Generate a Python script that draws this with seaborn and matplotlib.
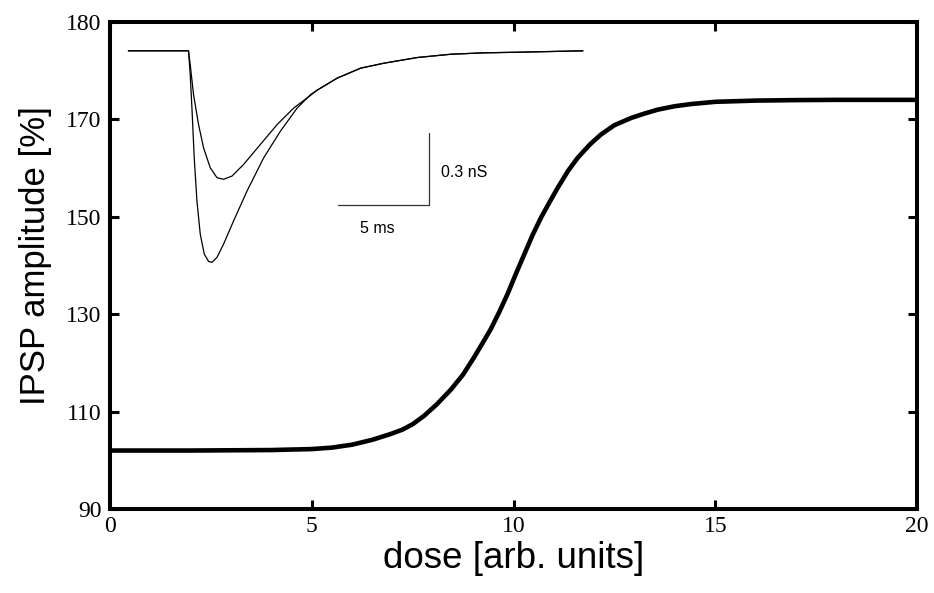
import matplotlib
matplotlib.use("Agg")
import matplotlib.pyplot as plt
import seaborn as sns
import pandas as pd

#######################
#
# DATA
#
#######################
# dose-response curve
dose = [0, 2, 4, 5, 5.5, 6, 6.5, 6.957, 7.25, 7.5, 7.78, 8.1, 8.447, 8.75, 9.027,
        9.25, 9.441, 9.65, 9.855, 10.06, 10.27, 10.47, 10.68, 10.9, 11.10, 11.35,
        11.59, 11.9, 12.17, 12.5, 12.92, 13.25, 13.58, 14.0, 14.41, 15, 16, 17, 18, 20]
ipsp = [102.0, 102.0, 102.1, 102.3, 102.6, 103.2, 104.2, 105.4, 106.3, 107.4,
        109.1, 111.5, 114.5, 117.6, 121.2, 124.3, 127.0, 130.5, 134.2, 138.3,
        142.35, 146.2, 149.8, 153.1, 156.0, 159.4, 162.1, 164.9, 166.9, 168.8,
        170.3, 171.2, 172.0, 172.7, 173.15, 173.6, 173.85, 173.95, 174.0, 174.0]

# inset conductance traces, drawn in the main axes units
deep_x = [0.455, 1.945, 1.988, 2.030, 2.087, 2.154, 2.236, 2.335, 2.442, 2.527,
          2.651, 2.815, 3.063, 3.396, 3.809, 4.224, 4.639, 4.969, 5.135, 5.632,
          6.211, 6.79, 7.62, 8.45, 9.27, 10.10, 10.93, 11.72]
deep_y = [184.07, 184.07, 179.16, 172.33, 162.11, 153.25, 146.44, 142.35, 140.84,
          140.63, 141.66, 144.40, 149.16, 155.30, 162.11, 167.59, 172.33, 175.07,
          176.0, 178.47, 180.51, 181.53, 182.70, 183.37, 183.66, 183.78, 183.93,
          184.07]
shallow_x = [0.455, 1.945, 1.988, 2.070, 2.194, 2.318, 2.484, 2.651, 2.815, 3.024,
             3.312, 3.727, 4.142, 4.554, 4.969, 5.135, 5.632, 6.211, 6.79, 7.62,
             8.45, 9.27, 10.10, 10.93, 11.72]
shallow_y = [184.07, 184.07, 181.21, 175.07, 168.94, 164.15, 160.06, 158.02, 157.69,
             158.36, 160.76, 164.85, 168.94, 172.33, 174.93, 176.0, 178.47, 180.51,
             181.53, 182.70, 183.37, 183.66, 183.78, 183.93, 184.07]

# scale bar (5 ms x 0.3 nS)
bar_x = [5.66, 7.90, 7.90]
bar_y = [152.4, 152.4, 167.2]

yticks = [90, 110, 130, 150, 170, 190]
ytick_labels = ["90", "110", "130", "150", "170", "180"]
xticks = [0, 5, 10, 15, 20]

#######################
#
# PLOT
#
#######################
sns.set_style("ticks")
plt.rcParams["font.family"] = ["Liberation Sans", "DejaVu Sans"]
plt.rcParams["text.color"] = "black"
plt.rcParams["axes.labelcolor"] = "black"

fig = plt.figure(figsize=(9.34, 5.93), dpi=100)
ax = fig.add_axes([0.1178, 0.1417, 0.864, 0.8213])

main_df = pd.DataFrame({"dose": dose, "ipsp": ipsp})
sns.lineplot(data=main_df, x="dose", y="ipsp", ax=ax, color="black",
             linewidth=3.3, estimator=None, sort=False)

deep_df = pd.DataFrame({"t": deep_x, "g": deep_y})
shallow_df = pd.DataFrame({"t": shallow_x, "g": shallow_y})
sns.lineplot(data=deep_df, x="t", y="g", ax=ax, color="black",
             linewidth=0.9, estimator=None, sort=False)
sns.lineplot(data=shallow_df, x="t", y="g", ax=ax, color="black",
             linewidth=0.9, estimator=None, sort=False)

ax.plot(bar_x, bar_y, color="#333333", linewidth=0.9)
ax.text(8.2, 159.0, "0.3 nS", fontsize=11.5, ha="left", va="center", color="black")
ax.text(6.62, 147.5, "5 ms", fontsize=11.5, ha="center", va="center", color="black")

ax.set_xlim(0, 20)
ax.set_ylim(90, 190)
ax.set_xticks(xticks)
ax.set_xticklabels([str(t) for t in xticks], family="Liberation Serif", fontsize=17)
ax.set_yticks(yticks)
ax.set_yticklabels(ytick_labels, family="Liberation Serif", fontsize=17)

for side in ["left", "right", "top", "bottom"]:
    ax.spines[side].set_visible(True)
    ax.spines[side].set_linewidth(2.9)
    ax.spines[side].set_color("black")

ax.tick_params(axis="both", which="major", direction="in", length=6.5, width=2.2,
               top=True, right=True, labeltop=False, labelright=False,
               color="black", labelcolor="black")
ax.tick_params(axis="x", pad=5)
ax.tick_params(axis="y", pad=6)

ax.set_xlabel("dose [arb. units]", fontsize=26.5, labelpad=3)
ax.set_ylabel("IPSP amplitude [%]", fontsize=25)
ax.yaxis.set_label_coords(-0.072, 0.52)

fig.savefig("out.png", dpi=100)
